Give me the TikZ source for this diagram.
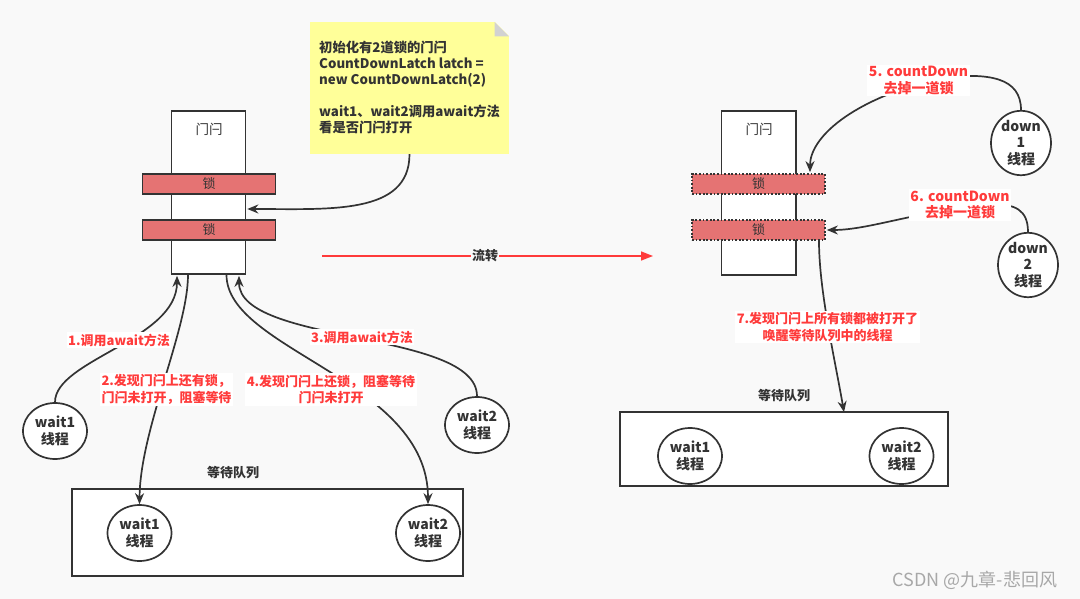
\documentclass[tikz,border=0pt]{standalone}
\usepackage{fontspec}
\setmainfont{Noto Sans CJK SC}
\usetikzlibrary{shapes.geometric,arrows.meta,calc}
\definecolor{bg}{HTML}{F9F9F9}
\definecolor{ink}{HTML}{333333}
\definecolor{lockred}{HTML}{E57373}
\definecolor{lbl}{HTML}{FF3B3B}
\definecolor{notey}{HTML}{FFFF99}
\definecolor{fold}{HTML}{D2D2D2}
\definecolor{wm}{HTML}{A8A8A8}
\begin{document}
\begin{tikzpicture}[x=1pt,y=-1pt,
  gatebox/.style={draw=ink, fill=white, line width=1.7pt, inner sep=0pt},
  lockbox/.style={draw=ink, fill=lockred, line width=1.7pt, minimum width=133pt, minimum height=20pt, inner sep=0pt, text=ink, font=\fontsize{13}{14}\selectfont},
  thread/.style={ellipse, draw=ink, fill=white, line width=1.7pt, minimum width=64pt, minimum height=56pt, inner sep=0pt, align=center, text=ink, font=\bfseries\fontsize{14}{16.5}\selectfont},
  queue/.style={draw=ink, fill=white, line width=1.7pt, inner sep=0pt},
  redlbl/.style={fill=white, text=lbl, align=center, inner sep=1.5pt, font=\bfseries\fontsize{13}{16.5}\selectfont},
  plain/.style={text=ink, font=\fontsize{13.5}{14}\selectfont},
  conn/.style={draw=ink, line width=1.7pt, -{Stealth[length=11pt,width=9pt]}},
]
\useasboundingbox (0,0) rectangle (1080,599);
\fill[bg] (0,0) rectangle (1080,599);

% ---------- left ----------
\node[gatebox, minimum width=74pt, minimum height=163pt] (gateL) at (208.5,192.5) {};
\node[plain] (gateLt) at (209,129) {门闩};
\node[lockbox] (lock1L) at (209,184) {锁};
\node[lockbox] (lock2L) at (209,230) {锁};

% note
\node[fill=notey, minimum width=199pt, minimum height=132pt, inner sep=0pt] (note) at (409.5,88) {};
\fill[bg] (494,21) -- (510,21) -- (510,37) -- cycle;
\fill[fold] (494.5,22) -- (494.5,36.5) -- (509,36.5) -- cycle;
\node[anchor=north west, align=left, inner sep=0pt, text=ink, font=\bfseries\fontsize{13.3}{16}\selectfont] (notet) at (319,40.5)
 {初始化有2道锁的门闩\\CountDownLatch latch =\\new CountDownLatch(2)\\[16pt]wait1、wait2调用await方法\\看是否门闩打开};

\node[thread] (w1) at (55,431) {wait1\\线程};
\node[thread] (w2) at (477,425) {wait2\\线程};

\node[queue, minimum width=391pt, minimum height=87pt] (queueL) at (267.75,532.5) {};
\node[plain, font=\bfseries\fontsize{13}{14}\selectfont] (queueLt) at (233,473) {等待队列};
\node[thread] (qw1) at (139.5,533) {wait1\\线程};
\node[thread] (qw2) at (428,533) {wait2\\线程};

\draw[conn] (note.south) .. controls (409.5,215) and (330,209) .. ($(gateL.east)+(1,16.5)$);
\draw[conn] (w1.north) .. controls (55,360) and ($(gateL.south)+(-31.5,65)$) .. ($(gateL.south)+(-31.5,1)$);
\draw[conn] ($(gateL.south)+(-20.5,0)$) .. controls ($(gateL.south)+(-20.5,55)$) and (140,430) .. (qw1.north);
\draw[conn] (w2.north) .. controls (477,330) and ($(gateL.south)+(30.5,70)$) .. ($(gateL.south)+(30.5,1)$);
\draw[conn] ($(gateL.south)+(18,0)$) .. controls ($(gateL.south)+(18,75)$) and (428,380) .. (qw2.north);

\node[redlbl] (l1) at (119,340) {1.调用await方法};
\node[redlbl] (l3) at (362,337) {3.调用await方法};
\node[redlbl, align=left] (l2) at (166.5,389.5) {2.发现门闩上还有锁，\\门闩未打开，阻塞等待};
\node[redlbl] (l4) at (331,389.5) {4.发现门闩上还锁，阻塞等待\\门闩未打开};

% ---------- transition ----------
\coordinate (tA) at (322,256);
\coordinate (tB) at (653,256);
\draw[lbl, line width=1.6pt, -{Triangle[length=12pt,width=9pt]}] (tA) -- (tB);
\node[fill=bg, inner sep=1pt, text=ink, font=\bfseries\fontsize{13}{14}\selectfont] (flow) at (485,256) {流转};

% ---------- right ----------
\node[gatebox, minimum width=74.5pt, minimum height=164pt] (gateR) at (758.75,193) {};
\node[plain] (gateRt) at (759,129) {门闩};
\node[lockbox, dash pattern=on 1.8pt off 1.8pt] (lock1R) at (758.5,184) {锁};
\node[lockbox, dash pattern=on 1.8pt off 1.8pt] (lock2R) at (758.5,230) {锁};

\node[thread, minimum width=60pt, minimum height=50pt, font=\bfseries\fontsize{14}{16.5}\selectfont] (d1) at (1021,143) {down\\1\\线程};
\node[thread, minimum width=60pt, minimum height=50pt, font=\bfseries\fontsize{14}{16.5}\selectfont] (d2) at (1028,265) {down\\2\\线程};

\node[queue, minimum width=328pt, minimum height=74pt] (queueR) at (784,449) {};
\node[plain, font=\bfseries\fontsize{13}{14}\selectfont] (queueRt) at (784,396) {等待队列};
\node[thread] (rw1) at (690,456) {wait1\\线程};
\node[thread] (rw2) at (901.5,456) {wait2\\线程};

\draw[conn] (d1.north) .. controls (1021,78) and (990,72) .. (940,78) .. controls (850,100) and ($(lock1R.north)+(51.5,-35)$) .. ($(lock1R.north)+(51.5,-1)$);
\draw[conn] (d2.north) .. controls (1028,210) and (1015,203) .. (990,205) .. controls (920,210) and (870,230) .. ($(lock2R.east)+(1,0)$);
\draw[conn] ($(lock2R.south)+(60.5,0)$) .. controls ($(lock2R.south)+(60.5,50)$) and (835,360) .. ($(queueR.north)+(60,1)$);

\node[redlbl, font=\bfseries\fontsize{14}{16.5}\selectfont] (l5) at (918.5,80.5) {5. countDown\\去掉一道锁};
\node[redlbl, font=\bfseries\fontsize{14}{16.5}\selectfont] (l6) at (960,205) {6. countDown\\去掉一道锁};
\node[redlbl] (l7) at (827.5,327) {7.发现门闩上所有锁都被打开了\\唤醒等待队列中的线程};

\node[text=wm, font=\fontsize{18}{20}\selectfont] (wmark) at (975,580) {CSDN @九章-悲回风};
\end{tikzpicture}
\end{document}
